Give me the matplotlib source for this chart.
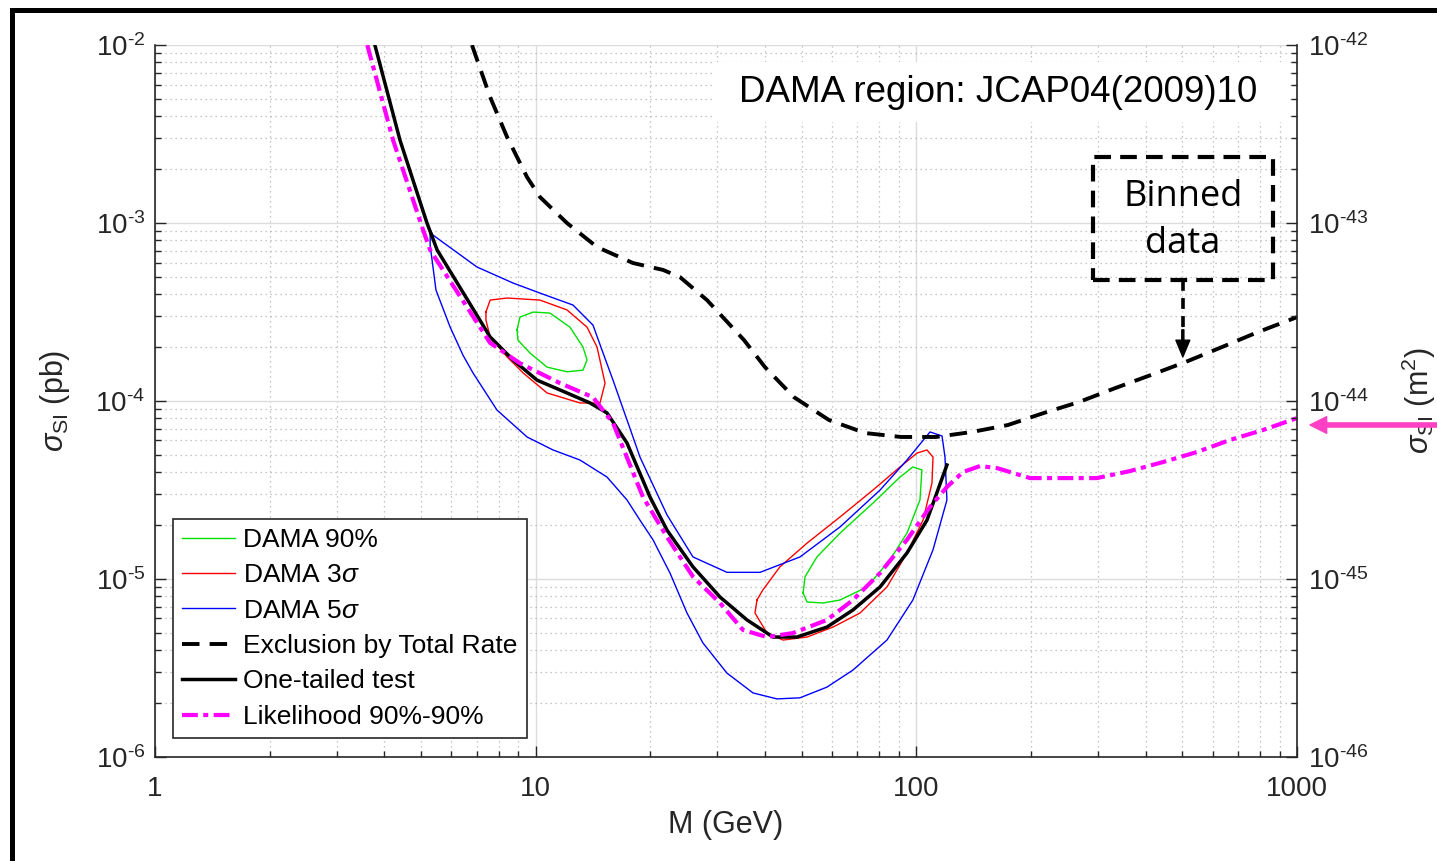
import matplotlib
matplotlib.use("Agg")
import matplotlib.pyplot as plt
import numpy as np
from matplotlib.lines import Line2D
from matplotlib.patches import Rectangle
from matplotlib.ticker import LogLocator, FuncFormatter, NullFormatter

plt.rcParams['font.family'] = ['Liberation Sans', 'DejaVu Sans']
plt.rcParams['mathtext.fontset'] = 'custom'
plt.rcParams['mathtext.rm'] = 'Liberation Sans'
plt.rcParams['mathtext.it'] = 'Liberation Sans:italic'
plt.rcParams['mathtext.bf'] = 'Liberation Sans:bold'

# --- data (M in GeV, sigma in pb) ---
# one-tailed test
onetail_m = [3.78, 4.40, 5.18, 5.51, 7.59, 8.72, 10.08, 12.08, 13.89, 15.39, 17.37, 19.96,
             22.13, 25.89, 30.49, 35.89, 42.02, 48.56, 58.23, 68.15, 80.26, 94.47, 106.6, 120.3]
onetail_s = [1.0e-2, 2.92e-3, 1.0e-3, 7.05e-4, 2.29e-4, 1.70e-4, 1.31e-4, 1.11e-4, 9.75e-5, 8.57e-5,
             5.81e-5, 2.89e-5, 1.88e-5, 1.17e-5, 7.92e-6, 5.89e-6, 4.72e-6, 4.72e-6, 5.37e-6,
             6.70e-6, 9.02e-6, 1.40e-5, 2.14e-5, 4.37e-5]

# likelihood 90%-90%
like_m = [3.61, 4.22, 5.06, 5.28, 7.59, 9.09, 11.58, 14.14, 15.96, 19.13, 22.13, 25.89, 30.49,
          35.04, 40.51, 47.41, 58.23, 68.15, 80.26, 94.47, 108.6, 120.3, 132.6, 146.9, 162.8,
          198.8, 242.7, 298.1, 363.9, 444.5, 545.8, 666.5, 813.7, 1000.0]
like_s = [1.0e-2, 2.92e-3, 9.14e-4, 7.05e-4, 2.12e-4, 1.63e-4, 1.26e-4, 1.05e-4, 7.52e-5, 2.89e-5,
          1.72e-5, 1.03e-5, 7.33e-6, 5.17e-6, 4.72e-6, 4.97e-6, 5.89e-6, 7.62e-6, 1.08e-5,
          1.66e-5, 2.54e-5, 3.29e-5, 3.99e-5, 4.31e-5, 4.20e-5, 3.69e-5, 3.69e-5, 3.69e-5,
          4.04e-5, 4.54e-5, 5.17e-5, 6.04e-5, 6.87e-5, 8.02e-5]

# exclusion by total rate
excl_m = [6.80, 7.59, 8.41, 9.49, 10.26, 12.08, 14.49, 18.01, 21.60, 23.93, 28.18, 35.25, 40.02,
          47.71, 58.94, 73.28, 91.1, 112.6, 140.0, 174.0, 216.3, 267.4, 332.3, 413.2, 510.7,
          635.1, 789.4, 1000.0]
excl_s = [1.0e-2, 5.10e-3, 3.04e-3, 1.81e-3, 1.40e-3, 1.0e-3, 7.33e-4, 5.96e-4, 5.45e-4, 4.97e-4,
          3.69e-4, 2.20e-4, 1.55e-4, 1.05e-4, 7.82e-5, 6.61e-5, 6.28e-5, 6.28e-5, 6.70e-5,
          7.33e-5, 8.57e-5, 9.87e-5, 1.18e-4, 1.40e-4, 1.66e-4, 2.01e-4, 2.44e-4, 2.96e-4]

# DAMA 5 sigma contour
d5_m = [5.28, 5.37, 7.01, 8.72, 10.26, 12.53, 14.14, 15.03, 15.96, 18.01, 18.79, 22.13, 25.89,
        31.8, 38.83, 49.45, 63.0, 80.26, 94.47, 108.6, 116.8, 118.9, 120.3, 110.6, 97.9, 83.7,
        68.15, 58.23, 49.45, 43.03, 37.23, 31.8, 27.5, 24.97, 22.53, 20.33, 18.79, 17.37, 15.39,
        13.07, 11.10, 9.49, 7.91, 6.84, 6.44, 5.96, 5.47, 5.28]
d5_s = [9.14e-4, 8.56e-4, 5.66e-4, 4.60e-4, 4.04e-4, 3.46e-4, 2.67e-4, 1.86e-4, 1.31e-4, 6.28e-5,
        4.84e-5, 2.29e-5, 1.33e-5, 1.09e-5, 1.09e-5, 1.33e-5, 1.96e-5, 3.16e-5, 4.66e-5, 6.70e-5,
        6.36e-5, 4.84e-5, 2.78e-5, 1.46e-5, 7.62e-6, 4.54e-6, 3.08e-6, 2.47e-6, 2.15e-6, 2.12e-6,
        2.29e-6, 2.96e-6, 4.37e-6, 6.44e-6, 1.08e-5, 1.66e-5, 2.14e-5, 2.78e-5, 3.74e-5, 4.66e-5,
        5.31e-5, 6.28e-5, 8.90e-5, 1.44e-4, 1.81e-4, 2.60e-4, 4.20e-4, 7.52e-4]

# DAMA 3 sigma contours (two islands)
d3a_m = [7.40, 7.59, 8.41, 10.26, 12.08, 13.64, 14.49, 15.21, 14.75, 13.07, 10.71, 9.26, 8.41, 7.59, 7.40]
d3a_s = [3.16e-4, 3.69e-4, 3.79e-4, 3.69e-4, 3.25e-4, 2.60e-4, 2.01e-4, 1.26e-4, 9.75e-5, 9.75e-5,
         1.11e-4, 1.44e-4, 1.77e-4, 2.29e-4, 2.85e-4]
d3b_m = [38.13, 37.67, 40.51, 44.63, 51.6, 60.4, 71.1, 83.7, 94.47, 104.1, 109.9, 110.6, 106.6,
         100.4, 90.6, 76.9, 63.0, 51.6, 43.8, 39.5]
d3b_s = [7.62e-6, 6.44e-6, 4.97e-6, 4.54e-6, 4.72e-6, 5.37e-6, 6.44e-6, 9.02e-6, 1.40e-5, 2.14e-5,
         3.46e-5, 4.84e-5, 5.31e-5, 5.10e-5, 4.26e-5, 3.16e-5, 2.23e-5, 1.59e-5, 1.17e-5, 8.67e-6]

# DAMA 90% contours (two islands)
d90a_m = [8.93, 9.09, 9.84, 10.90, 12.30, 13.31, 13.64, 13.31, 12.08, 10.71, 9.66, 8.98]
d90a_s = [2.51e-4, 2.96e-4, 3.16e-4, 3.12e-4, 2.60e-4, 2.01e-4, 1.70e-4, 1.49e-4, 1.46e-4,
          1.55e-4, 1.86e-4, 2.20e-4]
d90b_m = [50.4, 51.6, 56.8, 63.0, 74.2, 85.2, 94.47, 102.2, 103.4, 97.9, 90.6, 76.9, 63.0, 54.8, 51.0]
d90b_s = [8.34e-6, 7.43e-6, 7.33e-6, 7.62e-6, 9.02e-6, 1.28e-5, 1.81e-5, 2.78e-5, 4.10e-5,
          4.26e-5, 3.74e-5, 2.67e-5, 1.81e-5, 1.33e-5, 1.03e-5]

labels = ['DAMA 90%', r'DAMA 3$\sigma$', r'DAMA 5$\sigma$', 'Exclusion by Total Rate',
          'One-tailed test', 'Likelihood 90%-90%']

axcol = '#262626'


def closed(m, s):
    return np.r_[m, m[0]], np.r_[s, s[0]]


def pow10(v, p):
    e = int(round(np.log10(v)))
    sign = r'\text{-}' if e < 0 else ''
    return r'$\mathregular{10^{%s%d}}$' % (sign, abs(e))


fig = plt.figure(figsize=(14.37, 8.61), dpi=100)
ax = fig.add_axes([0.1079, 0.1208, 0.7947, 0.8269])

# contours
h90, = ax.plot(*closed(d90a_m, d90a_s), color='#00E000', lw=1.0)
ax.plot(*closed(d90b_m, d90b_s), color='#00E000', lw=1.0)
h3, = ax.plot(*closed(d3a_m, d3a_s), color='#FF0000', lw=1.0)
ax.plot(*closed(d3b_m, d3b_s), color='#FF0000', lw=1.0)
h5, = ax.plot(*closed(d5_m, d5_s), color='#0000FF', lw=1.0)

# curves
hex_, = ax.plot(excl_m, excl_s, color='black', lw=2.8, ls=(0, (4.5, 2.6)))
hone, = ax.plot(onetail_m, onetail_s, color='black', lw=2.5)
hlik, = ax.plot(like_m, like_s, color='#FF00FF', lw=3.0, ls=(0, (3.8, 1.3, 1.2, 1.3)))

ax.set_xscale('log')
ax.set_yscale('log')
ax.set_xlim(1, 1000)
ax.set_ylim(1e-6, 1e-2)

fmt = FuncFormatter(pow10)
ax.xaxis.set_major_locator(LogLocator(base=10))
ax.xaxis.set_minor_locator(LogLocator(base=10, subs=np.arange(2, 10)))
ax.xaxis.set_major_formatter(FuncFormatter(lambda v, p: '%d' % int(round(v))))
ax.xaxis.set_minor_formatter(NullFormatter())
ax.yaxis.set_major_locator(LogLocator(base=10))
ax.yaxis.set_minor_locator(LogLocator(base=10, subs=np.arange(2, 10)))
ax.yaxis.set_major_formatter(fmt)
ax.yaxis.set_minor_formatter(NullFormatter())

ax.grid(True, which='major', color='#DCDCDC', lw=1.0, ls='-')
ax.grid(True, which='minor', color='#B4B4B4', lw=0.9, ls=(0, (1, 3)))
ax.set_axisbelow(True)

ax.tick_params(which='both', direction='in', top=False, right=False, colors=axcol, labelsize=20)
ax.tick_params(which='major', length=8, width=1)
ax.tick_params(which='minor', length=4, width=1)
ax.tick_params(axis='x', pad=14)
ax.tick_params(axis='y', pad=7)
ax.spines['top'].set_visible(False)
ax.spines['right'].set_visible(False)
for sp in ['left', 'bottom']:
    ax.spines[sp].set_color(axcol)
    ax.spines[sp].set_linewidth(1.2)

ax.set_xlabel('M (GeV)', fontsize=22, color=axcol)
ax.xaxis.set_label_coords(0.5, -0.075)
ax.set_ylabel(r'$\sigma_{\mathrm{SI}}$ (pb)', fontsize=22, color=axcol)
ax.yaxis.set_label_coords(-0.073, 0.5)

# right axis in m^2
ax2 = ax.twinx()
ax2.set_yscale('log')
ax2.set_ylim(1e-46, 1e-42)
ax2.yaxis.set_major_locator(LogLocator(base=10))
ax2.yaxis.set_minor_locator(LogLocator(base=10, subs=np.arange(2, 10)))
ax2.yaxis.set_major_formatter(fmt)
ax2.yaxis.set_minor_formatter(NullFormatter())
ax2.tick_params(which='both', direction='in', colors=axcol, labelsize=20, pad=8)
ax2.tick_params(which='major', length=8, width=1)
ax2.tick_params(which='minor', length=4, width=1)
for sp in ['top', 'left', 'bottom']:
    ax2.spines[sp].set_visible(False)
ax2.spines['right'].set_color(axcol)
ax2.spines['right'].set_linewidth(1.2)
ax2.set_ylabel(r'$\sigma_{\mathrm{SI}}$ (m$^{2}$)', fontsize=22, color=axcol)
ax2.yaxis.set_label_coords(1.09, 0.5)

# title-like box
ax2.add_patch(Rectangle((0.490, 0.892), 0.502, 0.084, transform=ax.transAxes,
                        facecolor='white', edgecolor='none', zorder=1))
ax2.text(0.738, 0.934, 'DAMA region: JCAP04(2009)10', transform=ax.transAxes,
         ha='center', va='center', fontsize=26.5, color='black')

# Binned data callout
ax2.add_patch(Rectangle((0.821, 0.670), 0.158, 0.173, transform=ax.transAxes, fill=False,
                        edgecolor='black', lw=3, ls=(0, (4, 2.2)), clip_on=False))
ax2.text(0.900, 0.754, 'Binned\ndata', transform=ax.transAxes, ha='center', va='center',
         fontsize=26, family=['Open Sans', 'DejaVu Sans'], linespacing=1.4)
ax2.plot([0.900, 0.900], [0.670, 0.595], transform=ax.transAxes, color='black', lw=2.6,
         ls=(0, (3, 2)), clip_on=False)
ax2.annotate('', xy=(0.900, 0.562), xytext=(0.900, 0.600), xycoords='axes fraction',
             arrowprops=dict(facecolor='black', edgecolor='black', width=1.5, headwidth=10,
                             headlength=12, shrink=0))

leg = ax2.legend([h90, h3, h5, hex_, hone, hlik], labels, loc='lower left',
                 bbox_to_anchor=(0.0158, 0.0267), bbox_transform=ax.transAxes, borderaxespad=0,
                 fontsize=19, frameon=True, fancybox=False, edgecolor=axcol, framealpha=1,
                 handlelength=2.0, labelspacing=0.43, borderpad=0.35, handletextpad=0.3)
leg.get_frame().set_linewidth(1.2)

# pink pointer at the right edge
fig.add_artist(plt.Annotation('', xy=(1310 / 1437, 0.5064), xytext=(1.01, 0.5064),
                              xycoords='figure fraction', textcoords='figure fraction',
                              arrowprops=dict(facecolor='#FF40C4', edgecolor='#FF40C4', width=3,
                                              headwidth=12, headlength=12, shrink=0)))

# slide frame
fx = 12 / 1437
fy = 1 - 9.5 / 861
fig.add_artist(Line2D([fx, fx], [0, fy], transform=fig.transFigure, color='black', lw=3.6,
                      solid_capstyle='projecting'))
fig.add_artist(Line2D([fx, 1], [fy, fy], transform=fig.transFigure, color='black', lw=3.6,
                      solid_capstyle='projecting'))

fig.savefig('out.png', dpi=100)
